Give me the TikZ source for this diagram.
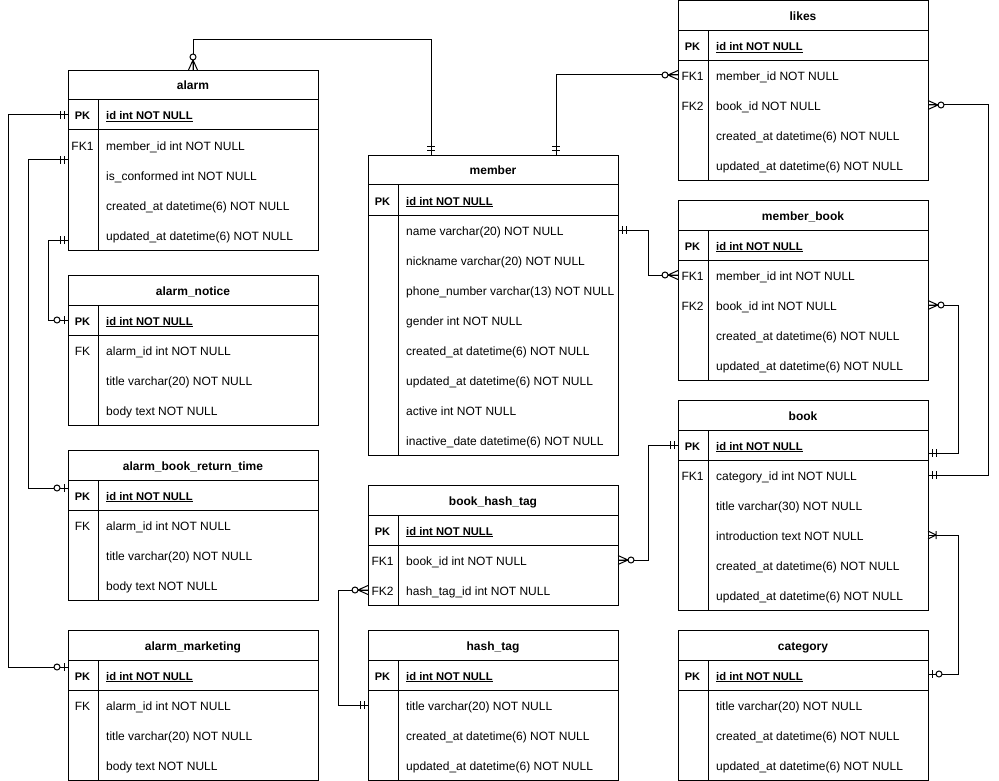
\documentclass[tikz,border=0pt]{standalone}
\usepackage{fontspec}
\setmainfont{Liberation Sans}
\tikzset{
  tbl/.style={draw, rectangle, line width=1pt, minimum width=250pt, inner sep=0pt},
  tline/.style={line width=1pt},
  conn/.style={line width=1pt},
  sym/.style={line width=1pt},
  ttl/.style={anchor=base, inner sep=0pt, font=\fontsize{12}{14}\selectfont\bfseries},
  keyc/.style={anchor=base, inner sep=0pt, font=\fontsize{12}{14}\selectfont},
  pkc/.style={anchor=base, inner sep=0pt, font=\fontsize{11}{13}\selectfont\bfseries},
  fld/.style={anchor=base west, inner sep=0pt, font=\fontsize{12}{14}\selectfont},
  pkf/.style={anchor=base west, inner sep=0pt, font=\fontsize{11.2}{13}\selectfont\bfseries},
}
% #1 name, #2 x, #3 y, #4 title, #5 pk field, #6 number of rows, #7 rows
\newcommand\ertable[7]{%
  \pgfmathsetmacro\erH{60+30*#6}%
  \node[tbl, minimum height=\erH pt, anchor=north west] (#1) at (#2,#3) {};
  \draw[tline] (#2,{#3+30}) -- ++(250,0) (#2,{#3+60}) -- ++(250,0)
               ({#2+30},{#3+30}) -- ({#2+30},{#3+\erH});
  \node[ttl] (#1-title) at ({#2+125},{#3+20}) {#4};
  \node[pkc] (#1-pk) at ({#2+14.5},{#3+50}) {PK};
  \node[pkf] (#1-pkf) at ({#2+38},{#3+50}) {\underline{#5}};
  \foreach \k/\f [count=\i] in {#7} {
    \node[keyc] (#1-k\i) at ({#2+14.5},{#3+50+30*\i}) {\k};
    \node[fld] (#1-f\i) at ({#2+38},{#3+50+30*\i}) {\f};
  }
}
% end symbols: #1 coordinate on the table edge, #2 outward direction angle
\newcommand\sDouble[2]{\begin{scope}[shift={(#1)},rotate=#2]
  \draw[sym] (4,-4)--(4,4) (8,-4)--(8,4);\end{scope}}
\newcommand\sZeroMany[2]{\begin{scope}[shift={(#1)},rotate=#2]
  \draw[sym] (10,0)--(0,-4.5) (10,0)--(0,4.5) (10,0)--(0,0);
  \draw[sym, fill=white] (13,0) circle (3);\end{scope}}
\newcommand\sZeroOne[2]{\begin{scope}[shift={(#1)},rotate=#2]
  \draw[sym] (4,-4)--(4,4);
  \draw[sym, fill=white] (11,0) circle (3);\end{scope}}
\newcommand\sOneMany[2]{\begin{scope}[shift={(#1)},rotate=#2]
  \draw[sym] (8,0)--(0,-4) (8,0)--(0,4) (8,-4)--(8,4);\end{scope}}
\begin{document}
\begin{tikzpicture}[x=1pt,y=-1pt]
\useasboundingbox (0,0) rectangle (999,781);

\ertable{alarm}{68}{70}{alarm}{id int NOT NULL}{4}{FK1/member\_id int NOT NULL, {}/is\_conformed int NOT NULL, {}/created\_at datetime(6) NOT NULL, {}/updated\_at datetime(6) NOT NULL}
\ertable{notice}{68}{275}{alarm\_notice}{id int NOT NULL}{3}{FK/alarm\_id int NOT NULL, {}/title varchar(20) NOT NULL, {}/body text NOT NULL}
\ertable{ret}{68}{450}{alarm\_book\_return\_time}{id int NOT NULL}{3}{FK/alarm\_id int NOT NULL, {}/title varchar(20) NOT NULL, {}/body text NOT NULL}
\ertable{mkt}{68}{630}{alarm\_marketing}{id int NOT NULL}{3}{FK/alarm\_id int NOT NULL, {}/title varchar(20) NOT NULL, {}/body text NOT NULL}
\ertable{member}{368}{155}{member}{id int NOT NULL}{8}{{}/name varchar(20) NOT NULL, {}/nickname varchar(20) NOT NULL, {}/phone\_number varchar(13) NOT NULL, {}/gender int NOT NULL, {}/created\_at datetime(6) NOT NULL, {}/updated\_at datetime(6) NOT NULL, {}/active int NOT NULL, {}/inactive\_date datetime(6) NOT NULL}
\ertable{bht}{368}{485}{book\_hash\_tag}{id int NOT NULL}{2}{FK1/book\_id int NOT NULL, FK2/hash\_tag\_id int NOT NULL}
\ertable{tag}{368}{630}{hash\_tag}{id int NOT NULL}{3}{{}/title varchar(20) NOT NULL, {}/created\_at datetime(6) NOT NULL, {}/updated\_at datetime(6) NOT NULL}
\ertable{likes}{678}{0.5}{likes}{id int NOT NULL}{4}{FK1/member\_id NOT NULL, FK2/book\_id NOT NULL, {}/created\_at datetime(6) NOT NULL, {}/updated\_at datetime(6) NOT NULL}
\ertable{mb}{678}{200}{member\_book}{id int NOT NULL}{4}{FK1/member\_id int NOT NULL, FK2/book\_id int NOT NULL, {}/created\_at datetime(6) NOT NULL, {}/updated\_at datetime(6) NOT NULL}
\ertable{book}{678}{400}{book}{id int NOT NULL}{5}{FK1/category\_id int NOT NULL, {}/title varchar(30) NOT NULL, {}/introduction text NOT NULL, {}/created\_at datetime(6) NOT NULL, {}/updated\_at datetime(6) NOT NULL}
\ertable{cat}{678}{630}{category}{id int NOT NULL}{3}{{}/title varchar(20) NOT NULL, {}/created\_at datetime(6) NOT NULL, {}/updated\_at datetime(6) NOT NULL}

% connection points on the table edges
\coordinate (aTop) at (193,70);
\coordinate (mTop1) at (431,155);
\coordinate (mTop2) at (556,155);
\coordinate (lFK1) at (678,75);
\coordinate (mName) at (618,230);
\coordinate (mbFK1) at (678,275);
\coordinate (lFK2) at (928,105);
\coordinate (bFK1) at (928,475);
\coordinate (mbFK2) at (928,305);
\coordinate (bPKr) at (928,453);
\coordinate (bhFK1) at (618,560);
\coordinate (bPKl) at (678,445);
\coordinate (bhFK2) at (368,590);
\coordinate (tTitle) at (368,705);
\coordinate (bIntro) at (928,535);
\coordinate (cPK) at (928,674);
\coordinate (aPK) at (68,115);
\coordinate (mktPK) at (68,667);
\coordinate (aFK) at (68,160);
\coordinate (retPK) at (68,488);
\coordinate (aUpd) at (68,240);
\coordinate (notPK) at (68,320);

% connectors
\draw[conn] (aTop) -- ++(0,-30) -| (mTop1);
\draw[conn] (mTop2) |- (lFK1);
\draw[conn] (mName) -- ++(30,0) |- (mbFK1);
\draw[conn] (lFK2) -- ++(60,0) |- (bFK1);
\draw[conn] (mbFK2) -- ++(30,0) |- (bPKr);
\draw[conn] (bhFK1) -- ++(30,0) |- (bPKl);
\draw[conn] (bhFK2) -- ++(-30,0) |- (tTitle);
\draw[conn] (bIntro) -- ++(30,0) |- (cPK);
\draw[conn] (aPK) -- ++(-60,0) |- (mktPK);
\draw[conn] (aFK) -- ++(-40,0) |- (retPK);
\draw[conn] (aUpd) -- ++(-20,0) |- (notPK);

% end symbols
\sZeroMany{aTop}{90}   \sDouble{mTop1}{90}
\sDouble{mTop2}{90}    \sZeroMany{lFK1}{180}
\sDouble{mName}{0}     \sZeroMany{mbFK1}{180}
\sZeroMany{lFK2}{0}    \sDouble{bFK1}{0}
\sZeroMany{mbFK2}{0}   \sDouble{bPKr}{0}
\sZeroMany{bhFK1}{0}   \sDouble{bPKl}{180}
\sZeroMany{bhFK2}{180} \sDouble{tTitle}{180}
\sOneMany{bIntro}{0}   \sZeroOne{cPK}{0}
\sDouble{aPK}{180}     \sZeroOne{mktPK}{180}
\sDouble{aFK}{180}     \sZeroOne{retPK}{180}
\sDouble{aUpd}{180}    \sZeroOne{notPK}{180}
\end{tikzpicture}
\end{document}
